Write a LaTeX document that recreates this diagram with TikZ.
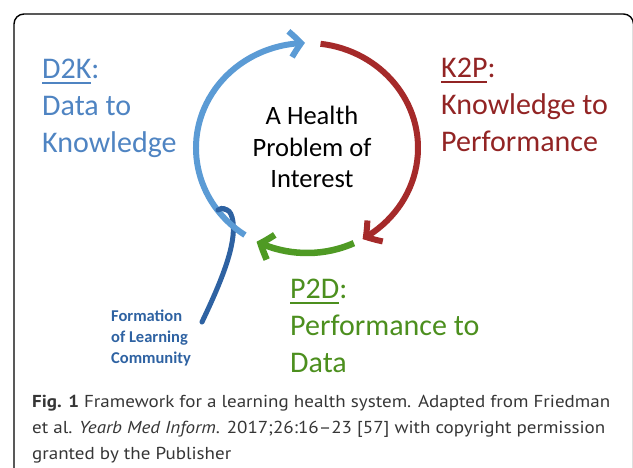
\documentclass[tikz,border=0pt]{standalone}
\usepackage{fontspec}
\setmainfont{Carlito}
\newfontfamily\capfont[FakeStretch=1.1]{PT Sans}
\usepackage{tikz}
\usetikzlibrary{arrows.meta,bending,positioning}

\definecolor{textblue}{HTML}{4F84C2}
\definecolor{arcblue}{HTML}{5B9BD5}
\definecolor{textred}{HTML}{922424}
\definecolor{arcred}{HTML}{A52A2A}
\definecolor{textgreen}{HTML}{4C8F1E}
\definecolor{arcgreen}{HTML}{4F9A24}
\definecolor{navy}{HTML}{2E62A2}
\definecolor{captext}{HTML}{363636}

% underline of a given thickness, colour taken from the text
\newcommand{\ulword}[1]{\setbox0\hbox{#1}\rlap{\raisebox{-5pt}{\rule{\wd0}{1.8pt}}}\box0}

\begin{document}
\begin{tikzpicture}[
    x=1pt, y=1pt,
    phase/.style={
		inner sep=0pt,
		anchor=base west,
		font=\fontsize{30}{37}\selectfont
	},
	hub/.style={
		inner sep=0pt,
		anchor=base,
		font=\fontsize{26.5}{31.5}\selectfont
	},
	community/.style={
		inner sep=0pt,
		anchor=base west,
		text=navy,
		font=\bfseries\fontsize{16.5}{21}\selectfont
	},
	caption/.style={
		inner sep=0pt,
		anchor=base west,
		text=captext,
		font=\capfont\fontsize{17.3}{26}\selectfont
	},
	cycle/.style={
		line width=6pt,
		-{Straight Barb[bend,length=11pt,width=26pt]}
	},
	learn/.style={
		navy,
		line width=5pt,
		line cap=round
	}
  ]
  \useasboundingbox (0,0) rectangle (633,-468);
  \draw [line width=1.4pt, rounded corners=10pt] (14,-14) rectangle (633.5,-495);

    % the cycle round the health problem
  \coordinate (centre) at (307,-148);

  \node [hub] (problem) at (312,-125)
 {%
 \begin{tabular}[t]{@{}c@{}}
  A Health\\
  Problem of\\
  Interest
 \end{tabular}
 };

  \node [phase, text=textblue] (d2k) at (42,-79)
 {%
 \begin{tabular}[t]{@{}l@{}}
  \ulword{D2K}:\\
  Data to\\
  Knowledge
 \end{tabular}
 };

  \node [phase, text=textred] (k2p) at (441,-78)
 {%
 \begin{tabular}[t]{@{}l@{}}
  \ulword{K2P}:\\
  Knowledge to\\
  Performance
 \end{tabular}
 };

  \node [phase, text=textgreen] (p2d) at (290,-299)
 {%
 \begin{tabular}[t]{@{}l@{}}
  \ulword{P2D}:\\
  Performance to\\
  Data
 \end{tabular}
 };

  \node [community] (formation) at (111,-322)
 {%
 \begin{tabular}[t]{@{}l@{}}
  Formation\\
  of Learning\\
  Community
 \end{tabular}
 };

  % the community line runs under the blue arc and curls back over it
  \coordinate (tail) at (202,-322);
  \coordinate (crest) at (227,-210);
  \coordinate (hook) at (218,-210);
  \draw [learn] (tail) .. controls (222,-280) and (236,-245) .. (233,-222)
    .. controls (232,-215) and (230,-211) .. (crest)
    .. controls (223,-208) and (220,-208) .. (hook);

  \draw [cycle, arcblue] ([shift={(236:111pt and 105pt)}]centre)
    arc [start angle=236, end angle=91, x radius=111pt, y radius=105pt];
  \draw [cycle, arcred] ([shift={(83:111pt and 105pt)}]centre)
    arc [start angle=83, end angle=-60, x radius=111pt, y radius=105pt];
  \draw [cycle, arcgreen, line width=6.5pt] ([shift={(-65:111pt and 105pt)}]centre)
    arc [start angle=-65, end angle=-117, x radius=111pt, y radius=105pt];

  \draw [learn] (crest) .. controls (223,-208) and (220,-208) .. (hook);

  \node [caption] (cap) at (32,-407)
 {%
 \begin{tabular}[t]{@{}l@{}}
  \textbf{Fig. 1} Framework for a learning health system. Adapted from Friedman\\
  et al. \textit{Yearb Med Inform}. 2017;26:16–23 [57] with copyright permission\\
  granted by the Publisher
 \end{tabular}
 };

\end{tikzpicture}
\end{document}
